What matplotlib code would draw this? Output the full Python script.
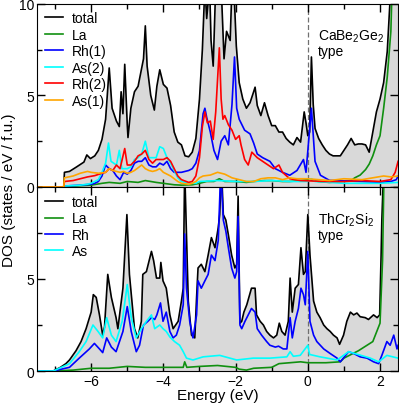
import numpy as np
import matplotlib
matplotlib.use("Agg")
import matplotlib.pyplot as plt
from matplotlib.ticker import MultipleLocator

plt.rcParams['font.family'] = ['Liberation Sans', 'DejaVu Sans']
plt.rcParams['mathtext.fontset'] = 'custom'
plt.rcParams['mathtext.rm'] = 'Liberation Sans'
plt.rcParams['mathtext.it'] = 'Liberation Sans'

# ---------------- top panel: CaBe2Ge2 type ----------------
top_total_e = [-7.5, -6.76, -6.74, -6.6, -6.4, -6.2, -6.12, -6.02, -5.9, -5.8, -5.7, -5.6, -5.5, -5.42, -5.3,
               -5.22, -5.17, -5.12, -5.07, -5.0, -4.98, -4.9, -4.8, -4.7, -4.62, -4.55, -4.5, -4.45, -4.35,
               -4.25, -4.18, -4.1, -4.0, -3.9, -3.8, -3.7, -3.6, -3.5, -3.4, -3.3, -3.2, -3.1, -3.0, -2.92,
               -2.85, -2.8, -2.72, -2.68, -2.62, -2.55, -2.4, -2.32, -2.25, -2.15, -2.1, -2.05, -1.98, -1.9,
               -1.8, -1.7, -1.6, -1.5, -1.46, -1.4, -1.3, -1.2, -1.1, -1.0, -0.9, -0.8, -0.7, -0.6, -0.5,
               -0.4, -0.3, -0.2, -0.1, -0.05, 0.0, 0.05, 0.1, 0.15, 0.2, 0.3, 0.4, 0.5, 0.6, 0.7, 0.8, 0.9,
               1.0, 1.1, 1.2, 1.3, 1.4, 1.5, 1.6, 1.7, 1.8, 1.9, 2.0, 2.1, 2.2, 2.3, 2.5]
top_total = [0, 0, 0.8, 0.85, 1.1, 1.36, 1.75, 1.55, 1.7, 2.0, 2.6, 3.7, 6.5, 4.3, 3.6,
             3.3, 5.2, 4.0, 6.7, 3.4, 2.7, 4.3, 5.2, 5.5, 6.3, 7.0, 8.8, 6.6, 5.0,
             4.2, 5.5, 6.4, 5.6, 5.4, 4.45, 3.0, 2.45, 2.3, 1.7, 1.65, 1.9, 2.65, 4.8, 7.5,
             11, 9.2, 11, 8.0, 6.6, 11, 11, 7.0, 8.5, 8.0, 11, 11, 7.7, 5.7,
             4.8, 4.3, 4.6, 5.2, 5.45, 4.45, 3.9, 4.6, 3.9, 3.35, 3.35, 3.0, 3.0, 2.65, 2.45,
             2.3, 2.7, 2.45, 4.1, 3.5, 2.8, 3.0, 7.1, 4.5, 3.2, 2.65, 2.3, 2.0, 1.8, 1.7, 1.7, 1.7,
             2.0, 2.3, 2.65, 2.3, 2.35, 2.35, 2.3, 1.9, 3.0, 4.1, 4.8, 5.7, 7.4, 11, 11]

top_la_e = [-7.5, -6.76, -6.74, -6.0, -5.7, -5.5, -5.2, -5.0, -4.7, -4.5, -4.2, -4.0, -3.7, -3.5, -3.2, -3.0,
            -2.8, -2.6, -2.45, -2.3, -2.0, -1.7, -1.5, -1.2, -1.0, -0.7, -0.5, -0.2, 0.0, 0.3, 0.6, 0.9,
            1.2, 1.3, 1.45, 1.6, 1.7, 1.8, 1.9, 2.0, 2.1, 2.2, 2.3, 2.35, 2.5]
top_la = [0, 0, 0.02, 0.1, 0.2, 0.25, 0.2, 0.3, 0.25, 0.35, 0.25, 0.2, 0.12, 0.1, 0.12, 0.2,
          0.3, 0.3, 0.45, 0.3, 0.3, 0.25, 0.3, 0.35, 0.35, 0.3, 0.3, 0.35, 0.4, 0.3, 0.25, 0.3,
          0.35, 0.5, 0.65, 0.95, 1.25, 1.7, 2.3, 2.8, 4.3, 6.0, 8.5, 12, 12]

top_rh1_e = [-7.5, -6.76, -6.74, -6.3, -6.0, -5.9, -5.8, -5.7, -5.6, -5.5, -5.4, -5.3, -5.2, -5.1, -5.0,
             -4.9, -4.8, -4.7, -4.6, -4.5, -4.4, -4.3, -4.2, -4.1, -4.0, -3.9, -3.8, -3.7, -3.5, -3.3,
             -3.2, -3.1, -3.0, -2.9, -2.85, -2.8, -2.7, -2.6, -2.5, -2.4, -2.3, -2.2, -2.1, -2.03,
             -1.97, -1.9, -1.75, -1.6, -1.5, -1.4, -1.25, -1.05, -0.9, -0.7, -0.5, -0.3, -0.12, -0.05,
             0.1, 0.2, 0.35, 0.6, 1.5, 2.0, 2.3, 2.45, 2.5]
top_rh1 = [0, 0, 0.05, 0.1, 0.15, 0.2, 0.3, 0.6, 1.2, 1.0, 0.9, 0.6, 0.4, 0.8, 0.7,
           0.9, 1.3, 1.4, 1.4, 1.6, 1.2, 1.1, 1.1, 1.3, 1.2, 1.4, 1.0, 0.8, 0.8, 0.9,
           1.0, 1.3, 2.0, 4.0, 4.3, 3.8, 3.0, 2.0, 1.5, 2.5, 2.8, 2.3, 4.5, 7.1,
           4.3, 3.7, 3.1, 2.9, 2.4, 1.8, 1.6, 1.4, 1.0, 0.8, 0.64, 0.9, 1.5, 0.8,
           4.3, 1.4, 0.64, 0.36, 0.3, 0.25, 0.3, 0.4, 0.6]

top_as2_e = [-7.5, -6.76, -6.74, -6.3, -6.1, -6.0, -5.8, -5.7, -5.6, -5.52, -5.45, -5.3, -5.22, -5.15,
             -5.0, -4.9, -4.8, -4.7, -4.6, -4.5, -4.4, -4.2, -4.1, -4.0, -3.9, -3.8, -3.7, -3.6, -3.5,
             -3.3, -3.1, -3.0, -2.5, -2.0, -1.5, -1.0, -0.5, 0.0, 0.1, 0.2, 1.0, 2.0, 2.5]
top_as2 = [0, 0, 0.05, 0.1, 0.15, 0.2, 0.4, 0.8, 1.3, 2.4, 1.4, 1.2, 2.0, 1.0,
           1.0, 1.1, 1.5, 1.6, 1.8, 2.5, 1.6, 1.6, 2.2, 2.1, 1.6, 1.3, 0.9, 0.5, 0.3,
           0.2, 0.2, 0.3, 0.35, 0.3, 0.3, 0.35, 0.3, 0.3, 0.45, 0.3, 0.2, 0.2, 0.25]

top_rh2_e = [-7.5, -6.76, -6.74, -6.5, -6.3, -6.1, -5.9, -5.7, -5.6, -5.5, -5.4, -5.3, -5.2, -5.07, -5.0,
             -4.9, -4.8, -4.7, -4.6, -4.5, -4.4, -4.3, -4.2, -4.0, -3.9, -3.8, -3.7, -3.6, -3.5, -3.3,
             -3.2, -3.1, -3.0, -2.92, -2.85, -2.78, -2.7, -2.62, -2.55, -2.45, -2.4, -2.35, -2.3, -2.2,
             -2.1, -2.0, -1.9, -1.85, -1.75, -1.65, -1.55, -1.4, -1.25, -1.1, -0.95, -0.8, -0.7, -0.5,
             -0.2, 0.5, 1.0, 1.5, 2.0, 2.3, 2.42, 2.5]
top_rh2 = [0, 0, 0.3, 0.35, 0.45, 0.55, 0.62, 0.75, 0.8, 1.0, 0.9, 1.2, 1.0, 2.1, 1.2,
           1.2, 1.4, 1.7, 1.8, 2.0, 1.5, 1.3, 1.5, 1.5, 1.6, 1.4, 1.0, 0.6, 0.4, 0.25,
           0.3, 0.6, 1.6, 3.3, 4.1, 3.5, 3.6, 2.6, 4.1, 7.6, 4.8, 3.7, 3.9, 3.4,
           3.1, 2.6, 2.8, 2.3, 1.5, 1.2, 1.9, 1.6, 1.4, 1.2, 1.0, 1.2, 0.8, 0.45,
           0.35, 0.3, 0.3, 0.35, 0.3, 0.4, 0.8, 1.4]

top_as1_e = [-7.5, -6.76, -6.74, -6.5, -6.3, -6.1, -6.0, -5.8, -5.6, -5.5, -5.4, -5.2, -5.1, -5.0, -4.9,
             -4.8, -4.7, -4.6, -4.5, -4.4, -4.3, -4.2, -4.1, -4.0, -3.9, -3.8, -3.7, -3.6, -3.5, -3.3,
             -3.2, -3.1, -3.0, -2.9, -2.7, -2.5, -2.3, -2.1, -1.9, -1.7, -1.5, -1.3, -1.1, -0.9, -0.7,
             -0.5, -0.3, 0.0, 0.3, 0.6, 1.0, 1.5, 1.8, 2.1, 2.3, 2.5]
top_as1 = [0, 0, 0.5, 0.6, 0.75, 0.85, 0.8, 0.75, 0.8, 1.0, 0.9, 0.8, 0.85, 0.75, 0.8,
           0.9, 1.05, 1.2, 1.0, 0.9, 0.85, 0.9, 1.0, 0.8, 0.7, 0.6, 0.45, 0.3, 0.2, 0.15,
           0.2, 0.3, 0.5, 0.6, 0.65, 0.8, 0.7, 0.5, 0.4, 0.3, 0.3, 0.45, 0.5, 0.5, 0.4,
           0.5, 0.45, 0.45, 0.4, 0.35, 0.45, 0.4, 0.5, 0.6, 0.55, 0.6]

# ---------------- bottom panel: ThCr2Si2 type ----------------
bot_total_e = [-7.5, -7.05, -7.0, -6.85, -6.7, -6.6, -6.42, -6.28, -6.14, -6.0, -5.94, -5.86, -5.77, -5.68,
               -5.63, -5.54, -5.44, -5.31, -5.26, -5.12, -5.01, -4.94, -4.8, -4.71, -4.61, -4.57, -4.47,
               -4.33, -4.27, -4.19, -4.1, -4.07, -4.01, -3.92, -3.82, -3.73, -3.59, -3.5, -3.45, -3.41,
               -3.31, -3.22, -3.13, -3.08, -3.04, -2.95, -2.85, -2.76, -2.67, -2.57, -2.48, -2.44, -2.39,
               -2.34, -2.27, -2.2, -2.11, -2.02, -1.97, -1.93, -1.88, -1.83, -1.77, -1.69, -1.56, -1.46,
               -1.42, -1.32, -1.23, -1.14, -1.05, -0.95, -0.86, -0.79, -0.72, -0.63, -0.54, -0.49, -0.43,
               -0.35, -0.26, -0.19, -0.12, -0.07, 0.0, 0.06, 0.16, 0.25, 0.34, 0.44, 0.53, 0.62, 0.71,
               0.81, 0.88, 0.99, 1.08, 1.18, 1.27, 1.36, 1.45, 1.59, 1.68, 1.82, 1.92, 1.99, 2.03, 2.05,
               2.1, 2.5]
bot_total = [0, 0, 0.05, 0.2, 0.4, 0.6, 1.1, 1.6, 2.3, 3.2, 4.15, 4.0, 3.05, 1.95,
             2.4, 5.25, 4.0, 2.9, 2.3, 4.5, 8.5, 5.25, 2.3, 1.8, 2.7, 5.25, 5.4,
             6.5, 6.0, 5.05, 5.05, 5.9, 4.9, 4.5, 3.05, 2.3, 2.7, 3.8, 4.5, 11,
             3.8, 1.95, 1.8, 4.0, 5.6, 5.8, 5.4, 6.3, 7.25, 6.7, 7.8, 8.5, 11,
             8.5, 8.2, 7.4, 6.3, 5.6, 5.8, 9.5, 2.6, 2.7, 3.2, 3.6, 4.5, 4.5,
             3.05, 2.7, 2.5, 2.15, 1.95, 1.8, 1.95, 2.6, 2.15, 1.95, 2.7, 5.05, 3.2,
             4.5, 4.7, 6.7, 5.25, 5.4, 8.5, 6.3, 3.8, 3.2, 2.9, 2.5, 2.3, 2.15, 1.95,
             1.8, 1.45, 1.95, 2.7, 3.2, 3.05, 3.15, 2.95, 2.9, 2.8, 3.05, 2.9, 3.05, 6.3, 8.2,
             11, 11]

bot_la_e = [-7.5, -7.05, -6.5, -6.0, -5.5, -5.0, -4.5, -4.0, -3.45, -3.41, -3.35, -3.0, -2.5, -2.0,
            -1.9, -1.7, -1.5, -1.0, -0.8, -0.5, -0.2, 0.0, 0.5, 0.9, 1.0, 1.2, 1.4, 1.6, 1.8, 1.9,
            2.0, 2.07, 2.12, 2.5]
bot_la = [0, 0, 0.05, 0.15, 0.15, 0.25, 0.2, 0.2, 0.2, 0.5, 0.2, 0.25, 0.3, 0.2,
          0.1, 0.05, 0.15, 0.2, 0.4, 0.45, 0.5, 0.45, 0.45, 0.5, 0.7, 0.9, 1.1, 1.35, 1.6, 2.1,
          2.6, 6.0, 12, 12]

bot_rh_e = [-7.5, -7.05, -6.6, -6.33, -6.05, -5.91, -5.77, -5.68, -5.57, -5.44, -5.31, -5.12, -5.0,
            -4.89, -4.75, -4.66, -4.55, -4.43, -4.33, -4.24, -4.18, -4.08, -4.01, -3.92, -3.82, -3.73,
            -3.64, -3.55, -3.45, -3.41, -3.36, -3.27, -3.18, -3.08, -3.04, -2.95, -2.85, -2.76, -2.67,
            -2.57, -2.48, -2.41, -2.34, -2.27, -2.2, -2.11, -2.02, -1.97, -1.93, -1.88, -1.83, -1.74,
            -1.65, -1.56, -1.46, -1.4, -1.28, -1.14, -1.05, -0.9, -0.81, -0.68, -0.58, -0.49, -0.43,
            -0.35, -0.26, -0.19, -0.12, -0.07, 0.0, 0.06, 0.16, 0.25, 0.44, 0.62, 0.81, 0.9, 1.13,
            1.27, 1.45, 1.64, 1.82, 1.96, 2.05, 2.19, 2.28, 2.38, 2.47, 2.5]
bot_rh = [0, 0, 0.2, 0.7, 1.2, 1.5, 1.2, 1.0, 1.8, 1.3, 1.05, 2.15, 3.5,
          2.15, 1.05, 1.4, 2.5, 2.7, 2.9, 2.8, 3.05, 3.7, 2.7, 3.2, 2.15, 1.8,
          1.95, 2.5, 3.6, 7.45, 4.5, 2.7, 1.8, 3.05, 4.9, 4.5, 4.9, 5.25, 6.3,
          6.0, 7.1, 11, 8.2, 7.6, 6.7, 5.6, 5.05, 5.4, 8.4, 2.5, 2.3, 2.7,
          3.05, 3.4, 3.2, 2.3, 1.95, 1.6, 1.4, 1.3, 1.35, 1.2, 1.2, 2.9, 1.8,
          2.7, 3.4, 4.5, 4.15, 3.6, 6.5, 2.7, 1.95, 1.6, 1.2, 0.95, 0.7, 0.5, 1.05,
          0.95, 0.77, 0.7, 0.5, 0.4, 0.85, 1.6, 1.4, 1.95, 1.2, 1.4]

bot_as_e = [-7.5, -7.05, -6.6, -6.33, -6.14, -5.95, -5.81, -5.68, -5.57, -5.44, -5.31, -5.14, -5.0,
            -4.89, -4.75, -4.61, -4.47, -4.33, -4.24, -4.1, -4.01, -3.92, -3.82, -3.69, -3.55, -3.45,
            -3.36, -3.18, -2.9, -2.44, -1.97, -1.51, -1.05, -0.58, -0.49, -0.4, -0.21, 0.0, 0.05,
            0.34, 0.81, 1.13, 1.73, 1.96, 2.19, 2.5]
bot_as = [0, 0, 0.4, 1.05, 1.6, 2.5, 2.15, 1.8, 2.9, 1.95, 1.6, 2.7, 4.7,
          2.9, 1.8, 2.3, 2.7, 3.05, 2.3, 2.5, 2.3, 2.15, 1.85, 1.6, 1.4, 1.05,
          0.7, 0.6, 0.77, 0.85, 0.6, 0.7, 0.7, 0.77, 1.05, 0.8, 0.85, 1.4, 0.9,
          0.77, 0.6, 1.05, 0.7, 0.5, 0.85, 0.7]

fill_col = '#d9d9d9'
lw = 1.2


def style_axis(ax):
    ax.set_xlim(-7.5, 2.5)
    ax.set_ylim(0, 10)
    ax.xaxis.set_major_locator(MultipleLocator(2))
    ax.xaxis.set_minor_locator(MultipleLocator(1))
    ax.yaxis.set_major_locator(MultipleLocator(5))
    ax.yaxis.set_minor_locator(MultipleLocator(2.5))
    ax.tick_params(which='both', direction='in', top=True, right=True, labelsize=10)
    ax.tick_params(which='major', length=6, width=1, pad=2)
    ax.tick_params(which='minor', length=3.5, width=1)
    ax.axvline(0, color='#707070', lw=0.9, ls=(0, (4, 2)), zorder=1)


fig = plt.figure(figsize=(3.99, 4.06), dpi=100)
ax1 = fig.add_axes([0.0927, 0.537, 0.905, 0.451])
ax2 = fig.add_axes([0.0927, 0.0837, 0.905, 0.4533])

# top
ax1.fill_between(top_total_e, top_total, color=fill_col, lw=0, zorder=0)
ax1.plot(top_total_e, top_total, color='black', lw=lw, label='total')
ax1.plot(top_la_e, top_la, color='#109010', lw=lw, label='La')
ax1.plot(top_rh1_e, top_rh1, color='#0000ff', lw=lw, label='Rh(1)')
ax1.plot(top_as2_e, top_as2, color='#00ffff', lw=lw, label='As(2)')
ax1.plot(top_rh2_e, top_rh2, color='#ff0000', lw=lw, label='Rh(2)')
ax1.plot(top_as1_e, top_as1, color='#ffa500', lw=lw, label='As(1)')
style_axis(ax1)
ax1.set_xticklabels([])
ax1.text(0.28, 8.7, 'CaBe$_2$Ge$_2$\ntype', fontsize=10, va='top', ha='left', linespacing=1.0)
ax1.legend(loc='upper left', bbox_to_anchor=(0.022, 0.96), frameon=False, fontsize=10,
           borderpad=0, borderaxespad=0, handlelength=1.3, handletextpad=0.65, labelspacing=0.18)

# bottom
ax2.fill_between(bot_total_e, bot_total, color=fill_col, lw=0, zorder=0)
ax2.plot(bot_total_e, bot_total, color='black', lw=lw, label='total')
ax2.plot(bot_la_e, bot_la, color='#109010', lw=lw, label='La')
ax2.plot(bot_rh_e, bot_rh, color='#0000ff', lw=lw, label='Rh')
ax2.plot(bot_as_e, bot_as, color='#00ffff', lw=lw, label='As')
style_axis(ax2)
ax2.set_yticks([0, 5])
ax2.text(0.28, 8.7, 'ThCr$_2$Si$_2$\ntype', fontsize=10, va='top', ha='left', linespacing=1.0)
ax2.legend(loc='upper left', bbox_to_anchor=(0.022, 0.955), frameon=False, fontsize=10,
           borderpad=0, borderaxespad=0, handlelength=1.3, handletextpad=0.65, labelspacing=0.16)

fig.text(0.546, 0.024, 'Energy (eV)', ha='center', va='center', fontsize=11)
fig.text(0.022, 0.532, 'DOS (states / eV / f.u.)', rotation=90, ha='center', va='center', fontsize=11)

fig.savefig('out.png', dpi=100)
